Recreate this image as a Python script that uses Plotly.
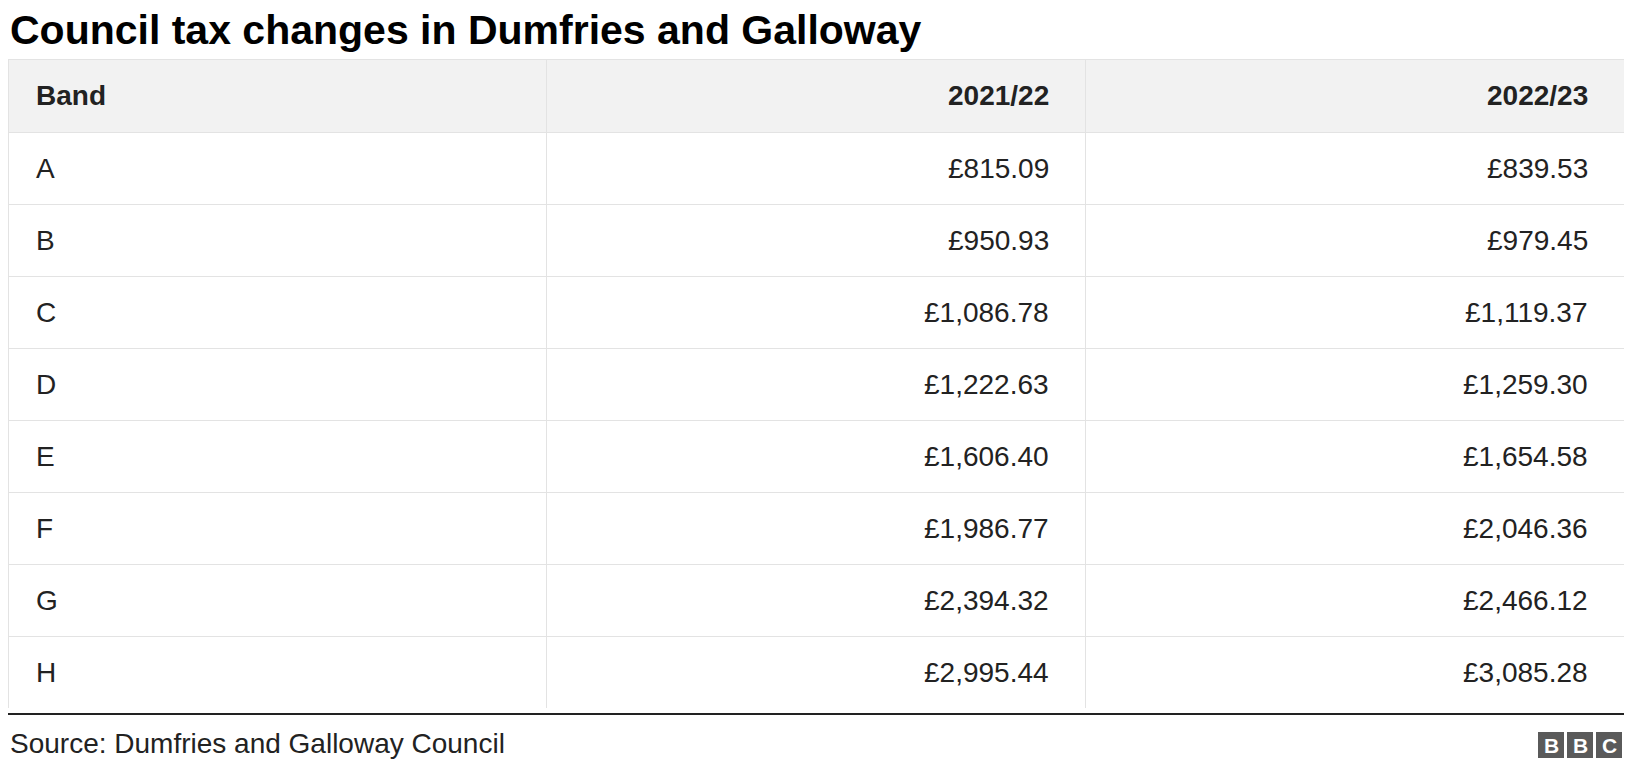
import plotly.graph_objects as go

bands = ["A", "B", "C", "D", "E", "F", "G", "H"]
tax_2021 = ["£815.09", "£950.93", "£1,086.78", "£1,222.63", "£1,606.40", "£1,986.77", "£2,394.32", "£2,995.44"]
tax_2022 = ["£839.53", "£979.45", "£1,119.37", "£1,259.30", "£1,654.58", "£2,046.36", "£2,466.12", "£3,085.28"]
headers = ["Band", "2021/22", "2022/23"]

# page body has an 8px margin, so the figure is sized to fit inside it
W, H = 1616, 754
top, head_h, row_h = 51, 73, 72
bottom = top + head_h + row_h * len(bands)
col_w = W / 3
font = "Liberation Sans, Arial"

# the table draws the grid and fills; text is placed centred in each cell below
fig = go.Figure(go.Table(
    domain=dict(x=[0, 1], y=[1 - bottom / H, 1 - top / H]),
    columnwidth=[1, 1, 1],
    header=dict(values=["", "", ""], fill_color="#f2f2f2", line_color="#e3e3e3", height=head_h),
    cells=dict(values=[[""] * len(bands)] * 3, fill_color="white", line_color="#e3e3e3", height=row_h),
))

columns = [bands, tax_2021, tax_2022]
for c, head in enumerate(headers):
    left = c == 0
    x = 26 if left else col_w * (c + 1) - 34
    anchor = "left" if left else "right"
    fig.add_annotation(text=f"<b>{head}</b>", x=x, y=H - (top + head_h / 2), xref="x", yref="y",
                       xanchor=anchor, yanchor="middle", showarrow=False,
                       font=dict(family=font, size=28, color="#222222"))
    for r, val in enumerate(columns[c]):
        fig.add_annotation(text=val, x=x, y=H - (top + head_h + row_h * (r + 0.5)), xref="x", yref="y",
                           xanchor=anchor, yanchor="middle", showarrow=False,
                           font=dict(family=font, size=28, color="#222222"))

fig.add_annotation(text="<b>Council tax changes in Dumfries and Galloway</b>", x=0, y=H - 22,
                   xref="x", yref="y", xanchor="left", yanchor="middle", showarrow=False,
                   font=dict(family=font, size=41, color="#000000"))
fig.add_shape(type="line", xref="x", yref="y", x0=0, x1=W, y0=H - 706, y1=H - 706,
              line=dict(color="#222222", width=2))
fig.add_annotation(text="Source: Dumfries and Galloway Council", x=0, y=H - 735,
                   xref="x", yref="y", xanchor="left", yanchor="middle", showarrow=False,
                   font=dict(family=font, size=28, color="#222222"))

# BBC blocks
for i, letter in enumerate("BBC"):
    x0 = W - 86 + i * 29
    fig.add_shape(type="rect", xref="x", yref="y", x0=x0, x1=x0 + 26, y0=H - 750, y1=H - 724,
                  fillcolor="#5a5a5a", line_width=0)
    fig.add_annotation(text=f"<b>{letter}</b>", x=x0 + 13, y=H - 737, xref="x", yref="y",
                       showarrow=False, font=dict(family=font, size=21, color="white"))

fig.update_layout(
    width=W, height=H, margin=dict(l=0, r=0, t=0, b=0), paper_bgcolor="white", plot_bgcolor="white",
    xaxis=dict(range=[0, W], visible=False, fixedrange=True),
    yaxis=dict(range=[0, H], visible=False, fixedrange=True),
)
fig.write_html("out.html", config=dict(displayModeBar=False))
